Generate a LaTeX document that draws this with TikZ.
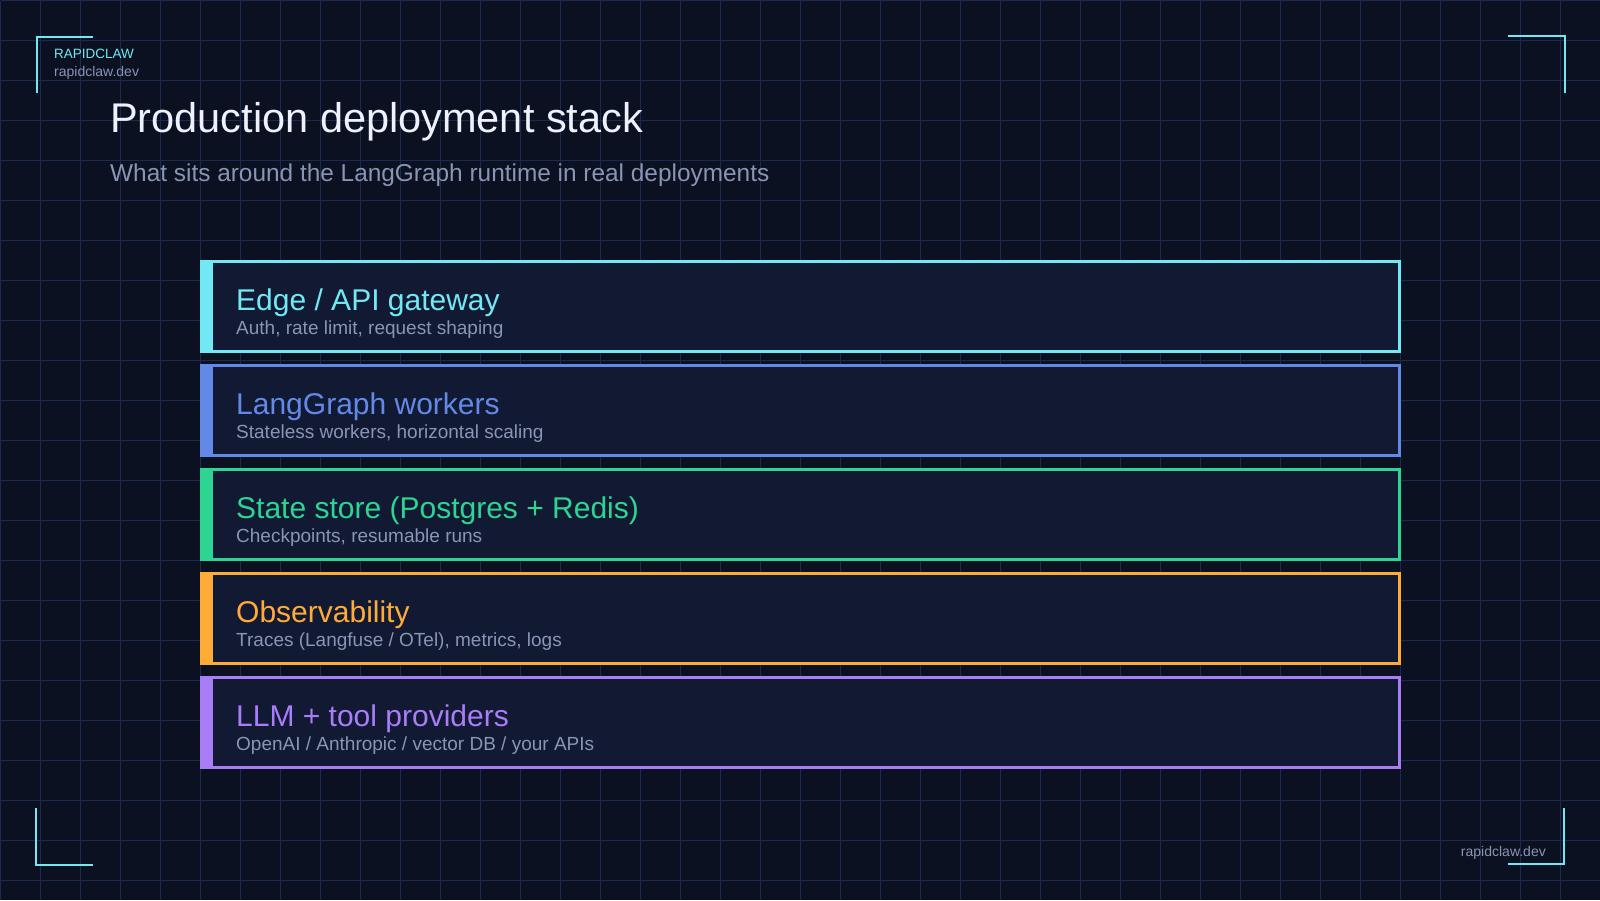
\documentclass[tikz,border=0pt]{standalone}
\usepackage{fontspec}
\setmainfont{Liberation Sans}
\usepackage{xcolor}
\usetikzlibrary{positioning,calc}
\definecolor{pagebg}{HTML}{0B1120}
\definecolor{gridcol}{HTML}{1A2A50}
\definecolor{cardbg}{HTML}{121A33}
\definecolor{titlecol}{HTML}{EEF2FF}
\definecolor{mutedcol}{HTML}{8A94B4}
\definecolor{edgecol}{HTML}{73E8F5}
\definecolor{workercol}{HTML}{6389E8}
\definecolor{statecol}{HTML}{2DD492}
\definecolor{obscol}{HTML}{FFAB38}
\definecolor{llmcol}{HTML}{A97CF8}

\begin{document}
\begin{tikzpicture}[
        x=1pt, y=-1pt,
        card/.style={rectangle, draw, line width=3pt, fill=cardbg, minimum width=1198pt, minimum height=90pt},
        cardbar/.style={rectangle, inner sep=0pt, outer sep=0pt, minimum width=13pt, minimum height=93pt, anchor=north west},
        cardtitle/.style={inner sep=0pt, anchor=base west, font=\fontsize{30}{36}\selectfont},
        cardsub/.style={inner sep=0pt, anchor=base west, text=mutedcol, font=\fontsize{19}{24}\selectfont},
        bracket/.style={draw=edgecol, line width=2pt},
        smalltext/.style={inner sep=0pt, anchor=base west}
    ]
        \useasboundingbox (0,0) rectangle (1600,900);
        \fill[pagebg] (0,0) rectangle (1600,900);
        \begin{scope}[shift={(0.5,0.5)}]
            \draw[gridcol, line width=1pt, step=40pt] (0,0) grid (1599.5,899.5);
        \end{scope}

        % corner brackets
        \draw[bracket] (93,37) -- (37,37) -- (37,93);
        \draw[bracket] (1508,36) -- (1565,36) -- (1565,93);
        \draw[bracket] (36,808) -- (36,865) -- (93,865);
        \draw[bracket] (1508,864) -- (1564,864) -- (1564,808);

        % header
        \node[smalltext, text=edgecol, font=\fontsize{13.5}{16}\selectfont] (brand) at (54,58) {RAPIDCLAW};
        \node[smalltext, text=mutedcol, font=\fontsize{14}{16}\selectfont] (site) at (54,76) {rapidclaw.dev};
        \node[smalltext, text=titlecol, font=\fontsize{41.5}{48}\selectfont] (title) at (110,132) {Production deployment stack};
        \node[smalltext, text=mutedcol, font=\fontsize{24.4}{30}\selectfont] (subtitle) at (110,181) {What sits around the LangGraph runtime in real deployments};
        \node[smalltext, anchor=base east, text=mutedcol, font=\fontsize{14}{16}\selectfont] (footer) at (1546,856) {rapidclaw.dev};

        % the stack
        \node[card, draw=edgecol, anchor=north west] (edge) at (200,260) {};
        \node[card, draw=workercol, below=11pt of edge] (workers) {};
        \node[card, draw=statecol, below=11pt of workers] (state) {};
        \node[card, draw=obscol, below=11pt of state] (obs) {};
        \node[card, draw=llmcol, below=11pt of obs] (llm) {};

        \node[cardbar, fill=edgecol] (edgebar) at (edge.north west) {};
        \node[cardbar, fill=workercol] (workersbar) at (workers.north west) {};
        \node[cardbar, fill=statecol] (statebar) at (state.north west) {};
        \node[cardbar, fill=obscol] (obsbar) at (obs.north west) {};
        \node[cardbar, fill=llmcol] (llmbar) at (llm.north west) {};

        \node[cardtitle, text=edgecol] (edgetitle) at ($(edge.north west)+(36,50)$) {Edge / API gateway};
        \node[cardsub] (edgesub) at ($(edge.north west)+(36,74)$) {Auth, rate limit, request shaping};
        \node[cardtitle, text=workercol] (workerstitle) at ($(workers.north west)+(36,50)$) {LangGraph workers};
        \node[cardsub] (workerssub) at ($(workers.north west)+(36,74)$) {Stateless workers, horizontal scaling};
        \node[cardtitle, text=statecol] (statetitle) at ($(state.north west)+(36,50)$) {State store (Postgres + Redis)};
        \node[cardsub] (statesub) at ($(state.north west)+(36,74)$) {Checkpoints, resumable runs};
        \node[cardtitle, text=obscol] (obstitle) at ($(obs.north west)+(36,50)$) {Observability};
        \node[cardsub] (obssub) at ($(obs.north west)+(36,74)$) {Traces (Langfuse / OTel), metrics, logs};
        \node[cardtitle, text=llmcol] (llmtitle) at ($(llm.north west)+(36,50)$) {LLM + tool providers};
        \node[cardsub] (llmsub) at ($(llm.north west)+(36,74)$) {OpenAI / Anthropic / vector DB / your APIs};
    \end{tikzpicture}
\end{document}
